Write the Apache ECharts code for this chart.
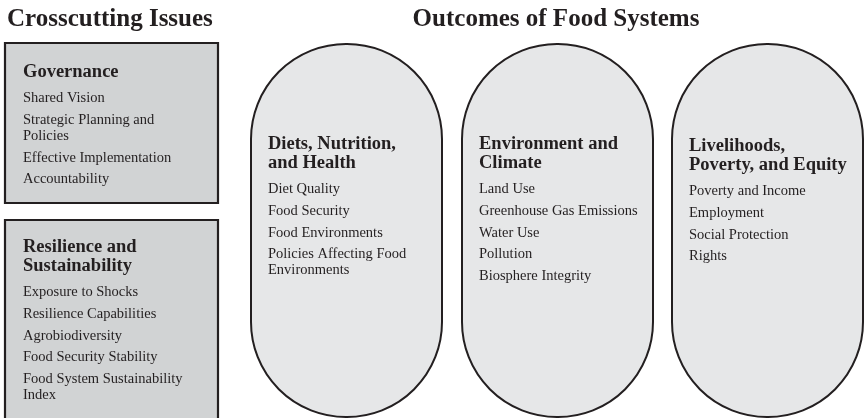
<!DOCTYPE html>
<html>
<head>
<meta charset="utf-8">
<script src="https://cdn.jsdelivr.net/npm/echarts@6/dist/echarts.min.js"></script>
<style>
html, body { margin: 0; padding: 0; background: #fff; }
#chart { width: 864px; height: 418px; }
</style>
</head>
<body>
<div id="chart"></div>
<script>
// diagram text
const columnTitles = ['Crosscutting Issues', 'Outcomes of Food Systems']
const boxHeadings = [['Governance'], ['Resilience and', 'Sustainability']]
const boxItems = [
  ['Shared Vision', 'Strategic Planning and\nPolicies', 'Effective Implementation', 'Accountability'],
  ['Exposure to Shocks', 'Resilience Capabilities', 'Agrobiodiversity', 'Food Security Stability', 'Food System Sustainability\nIndex']
]
const pillHeadings = [['Diets, Nutrition,', 'and Health'], ['Environment and', 'Climate'], ['Livelihoods,', 'Poverty, and Equity']]
const pillItems = [
  ['Diet Quality', 'Food Security', 'Food Environments', 'Policies Affecting Food\nEnvironments'],
  ['Land Use', 'Greenhouse Gas Emissions', 'Water Use', 'Pollution', 'Biosphere Integrity'],
  ['Poverty and Income', 'Employment', 'Social Protection', 'Rights']
]

const ink = '#231f20'
const serif = '"Liberation Serif", "DejaVu Serif", serif'

function label (x, y, text, size, bold, align) {
  return {
    type: 'text',
    x: x,
    y: y,
    style: {
      text: text,
      fill: ink,
      font: (bold ? 'bold ' : '') + size + 'px ' + serif,
      align: align || 'left',
      verticalAlign: 'middle'
    }
  }
}

// heading lines, then items; a wrapped item adds a short line
function panelText (x, y, heading, items) {
  const out = []
  heading.forEach((line, i) => {
    out.push(label(x, y + i * 19, line, 18.5, true))
  })
  let cy = y + (heading.length - 1) * 19 + 26.5
  items.forEach(item => {
    item.split('\n').forEach((line, j) => {
      if (j > 0) cy += 16
      out.push(label(x, cy, line, 14.5, false))
    })
    cy += 21.6
  })
  return out
}

const boxes = [
  { x: 5, y: 43, w: 213, h: 160, ty: 72 },
  { x: 5, y: 220, w: 213, h: 230, ty: 247 }
]
const pillX = [251, 462, 672]

const elements = []
elements.push(label(7, 20, columnTitles[0], 25, true))
elements.push(label(556, 20, columnTitles[1], 25, true, 'center'))

boxes.forEach((b, i) => {
  elements.push({
    type: 'rect',
    shape: { x: b.x, y: b.y, width: b.w, height: b.h },
    style: { fill: '#d1d3d4', stroke: ink, lineWidth: 2.2 }
  })
  elements.push(...panelText(23, b.ty, boxHeadings[i], boxItems[i]))
})

pillX.forEach((px, i) => {
  elements.push({
    type: 'rect',
    shape: { x: px, y: 44, width: 191, height: 373, r: 95 },
    style: { fill: '#e6e7e8', stroke: ink, lineWidth: 2 }
  })
  elements.push(...panelText(px + 17, i === 2 ? 146 : 144, pillHeadings[i], pillItems[i]))
})

const chart = echarts.init(document.getElementById('chart'))
chart.setOption({
  backgroundColor: '#ffffff',
  animation: false,
  graphic: { elements: elements }
})
window.addEventListener('resize', function () {
  chart.resize()
})
</script>
</body>
</html>
